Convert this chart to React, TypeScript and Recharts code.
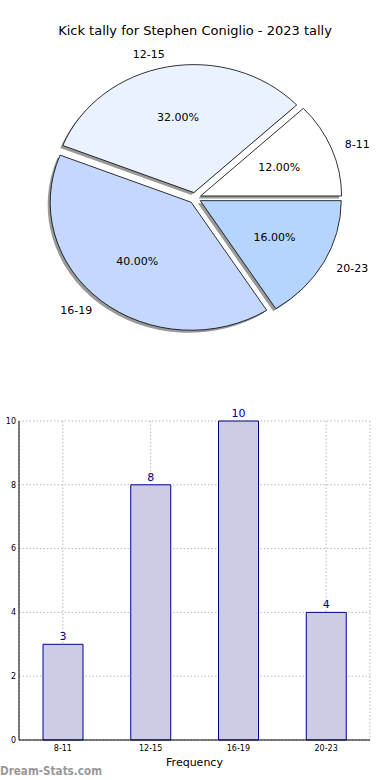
import { PieChart, Pie, BarChart, Bar, XAxis, YAxis, CartesianGrid, LabelList } from 'recharts'

const categories = ['8-11', '12-15', '16-19', '20-23']
const kicks = [3, 8, 10, 4]
const sliceColors = ['#FFFFFF', '#EAF2FF', '#C4D8FF', '#B5D5FF']
const yTicks = [0, 2, 4, 6, 8, 10]

const pieData = categories.map((name, i) => ({ name, value: kicks[i], color: sliceColors[i] }))
const barData = categories.map((name, i) => ({ name, value: kicks[i] }))

const FONT = '"DejaVu Sans", sans-serif'

// pie is drawn squashed like the original (no equal aspect)
const CX = 195
const CY = 198
const RX = 141
const RY = 128
const EX = 6
const EY = 5.5
const RAD = Math.PI / 180

function origin(mid: number, sx: number, sy: number) {
  return [CX + EX * Math.cos(mid * RAD) + sx, CY - EY * Math.sin(mid * RAD) + sy]
}

function at(ox: number, oy: number, a: number, f: number) {
  return [ox + RX * f * Math.cos(a * RAD), oy - RY * f * Math.sin(a * RAD)]
}

function wedgePath(start: number, end: number, mid: number, sx: number, sy: number) {
  const [ox, oy] = origin(mid, sx, sy)
  const [x1, y1] = at(ox, oy, start, 1)
  const [x2, y2] = at(ox, oy, end, 1)
  const large = Math.abs(end - start) > 180 ? 1 : 0
  return `M${ox},${oy} L${x1},${y1} A${RX},${RY} 0 ${large} 0 ${x2},${y2} Z`
}

const renderShadow = (p: any) => (
  <path d={wedgePath(p.startAngle, p.endAngle, p.midAngle, -2.5, 2.5)} fill="rgba(0,0,0,0.4)" />
)

const renderWedge = (p: any) => {
  const [ox, oy] = origin(p.midAngle, 0, 0)
  const [lx, ly] = at(ox, oy, p.midAngle, 1.1)
  const [px, py] = at(ox, oy, p.midAngle, 0.6)
  return (
    <g>
      <path
        d={wedgePath(p.startAngle, p.endAngle, p.midAngle, 0, 0)}
        fill={p.payload.color}
        stroke="#000"
        strokeWidth={0.8}
      />
      <text
        x={lx}
        y={ly}
        textAnchor={lx > ox ? 'start' : 'end'}
        dominantBaseline="central"
        fontSize={11}
        fontFamily={FONT}
        fill="#000"
      >
        {p.name}
      </text>
      <text x={px} y={py} textAnchor="middle" dominantBaseline="central" fontSize={11} fontFamily={FONT} fill="#000">
        {(p.percent * 100).toFixed(2)}%
      </text>
    </g>
  )
}

// y label sits mostly off the left edge, as in the original
const YLabel = () => (
  <text x={3} y={575} transform="rotate(-90, 3, 575)" textAnchor="middle" fontSize={11} fontFamily={FONT} fill="#000">
    Kick Count
  </text>
)

export default function App() {
  return (
    <div style={{ position: 'absolute', left: 0, top: 0, width: 390, height: 780, background: '#fff', fontFamily: FONT }}>
      <div style={{ position: 'absolute', top: 23, width: 390, textAlign: 'center', fontSize: 13, lineHeight: '15px' }}>
        Kick tally for Stephen Coniglio - 2023 tally
      </div>
      <div style={{ position: 'absolute', top: 0, left: 0 }}>
        <PieChart width={390} height={380}>
          <Pie
            data={pieData}
            dataKey="value"
            nameKey="name"
            cx={CX}
            cy={CY}
            outerRadius={RX}
            startAngle={0}
            endAngle={360}
            fill="none"
            stroke="none"
            label={renderShadow}
            labelLine={false}
            isAnimationActive={false}
          />
          <Pie
            data={pieData}
            dataKey="value"
            nameKey="name"
            cx={CX}
            cy={CY}
            outerRadius={RX}
            startAngle={0}
            endAngle={360}
            fill="none"
            stroke="none"
            label={renderWedge}
            labelLine={false}
            isAnimationActive={false}
          />
        </PieChart>
      </div>
      <div style={{ position: 'absolute', top: 400, left: 0 }}>
        <BarChart width={390} height={380} data={barData} margin={{ top: 21, right: 20, bottom: 0, left: 0 }}>
          <CartesianGrid stroke="#b8b8b8" strokeDasharray="1.5 2" />
          <XAxis
            dataKey="name"
            interval={0}
            tickLine={false}
            tickSize={0}
            tickMargin={5}
            height={40}
            axisLine={{ stroke: '#000' }}
            tick={{ fontSize: 8, fill: '#000', fontFamily: FONT }}
            label={{ value: 'Frequency', position: 'insideBottom', offset: 14, fontSize: 11, fill: '#000', fontFamily: FONT }}
          />
          <XAxis xAxisId="top" orientation="top" dataKey="name" height={0} tick={false} tickLine={false} axisLine={{ stroke: '#000' }} />
          <YAxis
            domain={[0, 10]}
            ticks={yTicks}
            width={19}
            tickLine={false}
            tickSize={0}
            tickMargin={3}
            axisLine={{ stroke: '#000' }}
            tick={{ fontSize: 8, fill: '#000', fontFamily: FONT }}
            label={<YLabel />}
          />
          <YAxis yAxisId="right" orientation="right" width={0} domain={[0, 10]} tick={false} tickLine={false} axisLine={{ stroke: '#000' }} />
          <Bar dataKey="value" barSize={40} fill="#CCCCE6" stroke="#00008B" strokeWidth={1} isAnimationActive={false}>
            <LabelList dataKey="value" position="top" offset={4} fill="#00008B" fontSize={11} fontFamily={FONT} />
          </Bar>
        </BarChart>
      </div>
      <svg width={120} height={16} style={{ position: 'absolute', left: 0, top: 762 }}>
        <text x={0} y={12.5} fontSize={12} fontWeight="bold" fontFamily={FONT} fill="#999" textLength={102} lengthAdjust="spacingAndGlyphs">
          Dream-Stats.com
        </text>
      </svg>
    </div>
  )
}
